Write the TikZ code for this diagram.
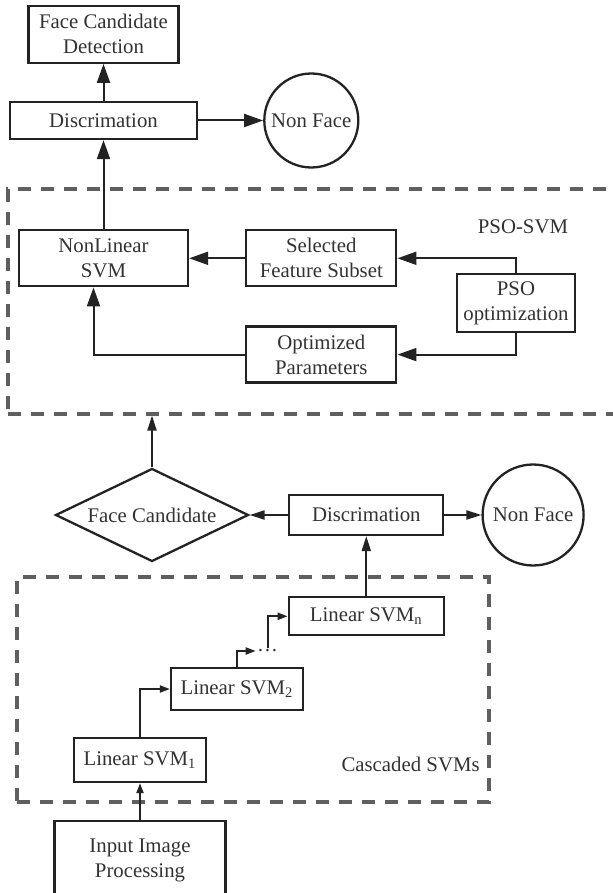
\documentclass[tikz,border=0pt]{standalone}
\usepackage{fontspec}
\setmainfont{Liberation Serif}
\usepackage{tikz}
\usetikzlibrary{arrows.meta,positioning,shapes.geometric}
\definecolor{fdline}{RGB}{35,35,35}
\definecolor{fdtext}{RGB}{50,50,50}
\definecolor{fddash}{RGB}{95,95,95}
\tikzset{
  fdnode/.style={
    draw=fdline,
    text=fdtext,
    align=center,
    inner sep=0pt,
    font=\fontsize{10.4}{12.5}\selectfont,
    line width=1.15pt
  },
  fdbox/.style={fdnode, rectangle},
  fdround/.style={fdnode, circle},
  fddecide/.style={fdnode, diamond, aspect=2, minimum width=96.5pt, minimum height=46.5pt},
  fdframe/.style={draw=fddash, line width=1.6pt, dash pattern=on 6.5pt off 5pt},
  fdlabel/.style={text=fdtext, inner sep=0pt, font=\fontsize{10.4}{12.5}\selectfont},
  fdarrow/.style={-{Triangle[length=9.5pt,width=6.5pt]}, line width=1pt, draw=fdline},
  fdarrowm/.style={-{Triangle[length=7.5pt,width=4.5pt]}, line width=1pt, draw=fdline},
  fdarrows/.style={-{Triangle[length=5pt,width=3.5pt]}, line width=1pt, draw=fdline}
}
\begin{document}
\begin{tikzpicture}[x=1pt,y=1pt]
\useasboundingbox (0,0) rectangle (306,-446.5);
\node[fdframe, minimum width=306pt, minimum height=112.5pt] (psoframe) at (157,-150.75) {};
\node[fdframe, minimum width=236pt, minimum height=112.5pt] (casframe) at (126.5,-344.75) {};
\node[fdbox, minimum width=93.5pt, minimum height=18.5pt] (disc) at (51.75,-60.25) {Discrimation};
\node[fdbox, minimum width=75pt, minimum height=28.5pt, above=18.5pt of disc] (detect) {Face Candidate\\Detection};
\node[fdround, minimum size=47pt, right=32.5pt of disc] (nonface) {Non Face};
\node[fdbox, minimum width=84.5pt, minimum height=28pt, below=44.5pt of disc] (nonlin) {NonLinear\\SVM};
\node[fdbox, minimum width=75pt, minimum height=28pt, right=28pt of nonlin] (select) {Selected\\Feature Subset};
\node[fdbox, minimum width=75pt, minimum height=28pt, below=19pt of select] (optim) {Optimized\\Parameters};
\node[fdbox, minimum width=59pt, minimum height=29pt] (pso) at (258,-151.5) {PSO\\optimization};
\node[fdlabel] (psolabel) at (261.5,-113.5) {PSO-SVM};
\node[fddecide] (cand) at (76,-257.5) {Face Candidate};
\node[fdbox, minimum width=77pt, minimum height=20pt, right=19.25pt of cand] (disc2) {Discrimation};
\node[fdround, minimum size=50.5pt, right=18.5pt of disc2] (nonface2) {Non Face};
\node[fdbox, minimum width=77.5pt, minimum height=19pt, below=30pt of disc2] (svmn) {Linear SVM\textsubscript{n}};
\node[fdbox, minimum width=66pt, minimum height=21pt] (svm2) at (118.5,-344.5) {Linear SVM\textsubscript{2}};
\node[fdbox, minimum width=66pt, minimum height=22pt] (svm1) at (70,-380) {Linear SVM\textsubscript{1}};
\node[fdlabel, inner sep=0.5pt] (dots) at (133.75,-325.5) {\dots};
\node[fdlabel, anchor=east] (caslabel) at (240,-382) {Cascaded SVMs};
\node[fdbox, minimum width=85.5pt, minimum height=39pt, below=18.5pt of svm1] (input) {Input Image\\Processing};
\draw[fdarrow] (disc) -- (detect);
\draw[fdarrow] (disc) -- (nonface);
\draw[fdarrow] (nonlin) -- (disc);
\draw[fdarrow] (select) -- (nonlin);
\draw[fdarrow] (pso.north) |- (select.east);
\draw[fdarrow] (pso.south) |- (optim.east);
\draw[fdarrow] (optim.west) -| ([xshift=-5pt]nonlin.south);
\draw[fdarrowm] (cand.north) -- (cand.north |- psoframe.south);
\draw[fdarrowm] (disc2) -- (cand);
\draw[fdarrowm] (disc2) -- (nonface2);
\draw[fdarrowm] (svmn) -- (disc2);
\draw[fdarrows] (input) -- (svm1);
\draw[fdarrows] (svm1.north) |- (svm2.west);
\draw[fdarrows] (svm2.north) |- (dots.west);
\draw[fdarrows] (dots.north) |- (svmn.west);
\end{tikzpicture}
\end{document}
